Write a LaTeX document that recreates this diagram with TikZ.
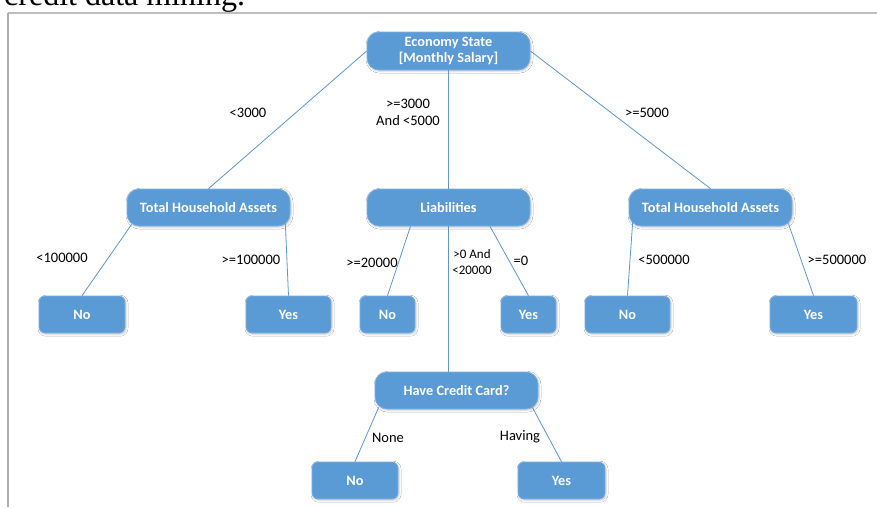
\documentclass[tikz,border=0pt]{standalone}
\usepackage{fontspec}
\setmainfont{Carlito}
\newfontfamily\headserif{Liberation Serif}
\usetikzlibrary{calc,shadows.blur}

\definecolor{boxblue}{RGB}{91,155,213}
\definecolor{boxrim}{RGB}{125,175,225}
\definecolor{linkblue}{RGB}{95,150,205}
\definecolor{framegray}{RGB}{175,175,175}

\tikzset{
  decision/.style={rounded corners=12pt, fill=boxblue, draw=boxrim, line width=0.7pt,
    minimum width=163pt, minimum height=37pt, inner sep=0pt, align=center,
    text=white, font=\bfseries\fontsize{14.3}{17}\selectfont,
    blur shadow={shadow xshift=1pt, shadow yshift=-1.2pt, shadow opacity=22, shadow blur radius=2pt}},
  leafbox/.style={decision, rounded corners=6pt, minimum width=86pt},
  smallleaf/.style={leafbox, minimum width=55pt},
  link/.style={draw=linkblue, line width=0.8pt},
  cond/.style={inner sep=0pt, align=center, text=black, font=\fontsize{14.5}{16.5}\selectfont},
}

\begin{document}
\begin{tikzpicture}[x=1pt, y=-1pt]
  \clip (0,0) rectangle (877,507);
  \fill[white] (0,0) rectangle (877,507);

  % caption line above the frame, cut by the page edge
  \node[anchor=base west, inner sep=0pt, font=\headserif\fontsize{32}{36}\selectfont] (caption) at (4,5) {credit data mining.};

  % frame
  \coordinate (fcorner) at (8,13);
  \coordinate (fright) at (877,13);
  \coordinate (fbottom) at (8,507);
  \draw[framegray!80, line width=1.3pt] (fcorner) -- (fright);
  \draw[framegray, line width=1.1pt] (fcorner) -- (fbottom);

  % decision nodes
  \node[decision, minimum height=38pt] (root) at (448.5,51) {Economy State\\[-1pt][Monthly Salary]};
  \node[decision] (thaL) at (208.5,207.5) {Total Household Assets};
  \node[decision] (liab) at (448.5,207.5) {Liabilities};
  \node[decision] (thaR) at (710.5,207.5) {Total Household Assets};
  \node[decision] (hcc)  at (456.5,390.5) {Have Credit Card?};

  % leaves
  \node[leafbox] (no1)  at (82,314.5) {No};
  \node[leafbox, minimum width=85pt] (yes1) at (288.5,314.5) {Yes};
  \node[smallleaf] (no2)  at (387.5,314.5) {No};
  \node[smallleaf] (yes2) at (528.5,314.5) {Yes};
  \node[leafbox, minimum width=85pt] (no3)  at (627.5,314.5) {No};
  \node[leafbox, minimum width=87pt] (yes3) at (813.5,314.5) {Yes};
  \node[leafbox] (no4)  at (355,480.5) {No};
  \node[leafbox, minimum width=87pt] (yes4) at (561.5,480.5) {Yes};

  % connectors
  \draw[link] (root.west) -- (thaL.north);
  \draw[link] (root.east) -- (thaR.north);
  \draw[link] (root.south) -- (liab.north);

  \draw[link] ($(thaL.south west)+(5,-2)$) -- (no1.north);
  \draw[link] ($(thaL.south east)+(-5,-3)$) -- (yes1.north);

  \coordinate (liabtap) at ($(liab.south)+(-0.5,0)$);
  \draw[link] ($(liab.south)+(-38,0)$) -- (no2.north);
  \draw[link] ($(liab.south)+(41.5,0)$) -- (yes2.north);
  \draw[link] (liabtap) -- (liabtap |- hcc.north);

  \draw[link] ($(thaR.south west)+(4,-4)$) -- (no3.north);
  \draw[link] ($(thaR.south east)+(-4,-3)$) -- (yes3.north);

  \draw[link] ($(hcc.south west)+(4,-2)$) -- (no4.north);
  \draw[link] ($(hcc.south east)+(-6,-2)$) -- (yes4.north);

  % branch conditions
  \node[cond] (c1) at (248,113) {<3000};
  \node[cond] (c2) at (408,112.5) {>=3000\\And <5000};
  \node[cond] (c3) at (647,113) {>=5000};
  \node[cond] (c4) at (62,258) {<100000};
  \node[cond] (c5) at (251,260) {>=100000};
  \node[cond] (c6) at (372,263) {>=20000};
  \node[cond, font=\fontsize{13}{15.5}\selectfont] (c7) at (472,262) {>0 And\\<20000};
  \node[cond] (c8) at (521,261) {=0};
  \node[cond] (c9) at (664,260) {<500000};
  \node[cond] (c10) at (837,260) {>=500000};
  \node[cond] (c11) at (388,438) {None};
  \node[cond] (c12) at (520,437) {Having};
\end{tikzpicture}
\end{document}
